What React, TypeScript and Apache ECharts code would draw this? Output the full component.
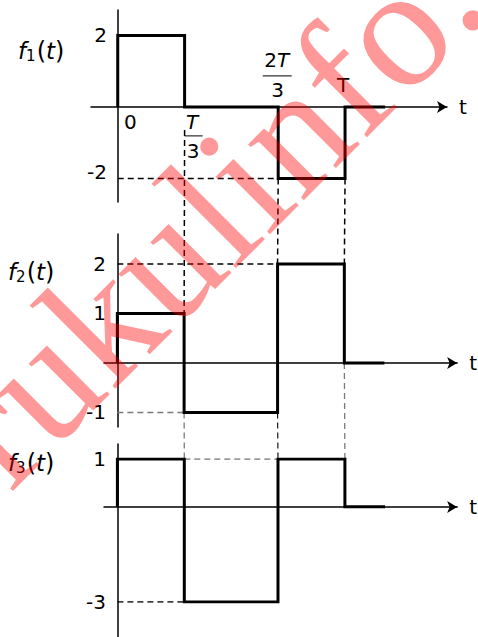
import React, { useEffect, useRef } from 'react';
import * as echarts from 'echarts';

// time breakpoints: 0, T/3, 2T/3, T, end of drawn tail
const tBreaks = [0, 1, 2.4, 3.4, 4.0];
// values of each function on [0,T/3], [T/3,2T/3], [2T/3,T], after T
const f1Values = [2, 0, -2, 0];
const f2Values = [1, -1, 2, 0];
const f3Values = [1, -3, 1, 0];
// y tick labels
const y1Ticks = [2, -2];
const y2Ticks = [2, 1, -1];
const y3Cats = ['-3', '', '0', '1'];
const y3Ticks = ['1', '-3'];
const fIndex = ['1', '2', '3'];
const watermark = 'rukulinfo.';

function stepPoints(vals: number[], map: (v: number) => number = (v) => v) {
  const pts: number[][] = [[tBreaks[0], map(0)]];
  vals.forEach((v, i) => {
    pts.push([tBreaks[i], map(v)], [tBreaks[i + 1], map(v)]);
  });
  return pts;
}

export default function App() {
  const ref = useRef<HTMLDivElement>(null);
  useEffect(() => {
    const chart = echarts.init(ref.current!, null, { renderer: 'svg' });
    const FONT = 'DejaVu Sans';
    const black = '#000';
    const gray = '#7a7a7a';
    const f3Map = (v: number) => y3Cats.indexOf(String(v));

    const lineBase = { show: true, onZero: true, lineStyle: { color: black, width: 1.5 } };
    const arrowLine = { ...lineBase, symbol: ['none', 'arrow'], symbolSize: [9, 10] };
    const mkX = (gridIndex: number, min: number, max: number, show: boolean) => ({
      type: 'value', gridIndex, min, max,
      axisLine: show ? arrowLine : { show: false, onZero: true },
      axisTick: { show: false }, axisLabel: { show: false }, splitLine: { show: false },
      name: show ? 't' : '', nameLocation: 'end', nameGap: 12,
      nameTextStyle: { fontSize: 20, fontFamily: FONT, color: black },
    });
    const lbl = { fontSize: 20, fontFamily: FONT, color: black };

    const stepSeries = (vals: number[], idx: number, map?: (v: number) => number) => ({
      type: 'line', xAxisIndex: idx, yAxisIndex: idx, data: stepPoints(vals, map),
      symbol: 'none', silent: true, z: 5, clip: false,
      lineStyle: { color: black, width: 3, cap: 'butt', join: 'miter' },
    });
    const hGuide = (idx: number, y: number, xa: number, xb: number, color: string, width: number) => ({
      type: 'line', xAxisIndex: idx, yAxisIndex: idx, data: [[xa, y], [xb, y]],
      symbol: 'none', silent: true, z: 3, clip: false,
      lineStyle: { color, width, type: [6, 4] },
    });

    const option: any = {
      animation: false,
      grid: [
        { left: 91, top: 10, width: 356, height: 192 },
        { left: 104, top: 234, width: 354, height: 193 },
        { left: 104, top: 459, width: 354, height: 143 },
        { left: 104, top: 444, width: 354, height: 193 },
      ],
      xAxis: [
        mkX(0, -0.4, 4.925, true),
        mkX(1, -0.2, 5.09, true),
        mkX(2, -0.2, 5.09, false),
        mkX(3, -0.2, 5.09, true),
      ],
      yAxis: [
        {
          type: 'value', gridIndex: 0, min: -2.66, max: 2.71,
          axisLine: lineBase, axisTick: { show: false }, splitLine: { show: false },
          axisLabel: {
            ...lbl, margin: -16, customValues: y1Ticks,
            formatter: (v: number) => (v < 0 ? '{up|' + v + '}' : String(v)),
            rich: { up: { fontSize: 20, fontFamily: FONT, color: black, padding: [0, 0, 13, 0] } },
          },
        },
        {
          type: 'value', gridIndex: 1, min: -1.293, max: 2.606,
          axisLine: lineBase, axisTick: { show: false }, splitLine: { show: false },
          axisLabel: { ...lbl, margin: -2, customValues: y2Ticks },
        },
        {
          type: 'category', gridIndex: 2, data: y3Cats, boundaryGap: false,
          axisLine: { show: false, onZero: true }, axisTick: { show: false }, splitLine: { show: false },
          axisLabel: { ...lbl, margin: -2, interval: 0, formatter: (v: string) => (y3Ticks.includes(v) ? v : '') },
        },
        {
          type: 'value', gridIndex: 3, min: -2.727, max: 1.3217,
          axisLine: lineBase, axisTick: { show: false }, splitLine: { show: false },
          axisLabel: { show: false },
        },
      ],
      series: [
        hGuide(0, f1Values[2], tBreaks[0], tBreaks[2], black, 1.5),
        hGuide(1, f2Values[2], tBreaks[0], tBreaks[2], black, 1.5),
        hGuide(1, f2Values[1], tBreaks[0], tBreaks[1], gray, 1.3),
        hGuide(2, f3Map(f3Values[0]), tBreaks[1], tBreaks[2], gray, 1.3),
        hGuide(2, f3Map(f3Values[1]), tBreaks[0], tBreaks[1], black, 1.5),
        stepSeries(f1Values, 0),
        stepSeries(f2Values, 1),
        stepSeries(f3Values, 2, f3Map),
      ],
    };
    chart.setOption(option);

    const P = (g: number, x: number, y: number) => chart.convertToPixel({ gridIndex: g } as any, [x, y]) as number[];
    const dash = (a: number[], b: number[], color: string, width: number) => ({
      type: 'line', z: 1, silent: true,
      shape: { x1: a[0], y1: a[1], x2: b[0], y2: b[1] },
      style: { stroke: color, lineWidth: width, lineDash: [6, 4] },
    });
    const txt = (x: number, y: number, text: string, italic = false, size = 20, extra: any = {}) => ({
      type: 'text', x, y, z: 10, silent: true,
      style: {
        text, fontSize: size, fontFamily: FONT, fontStyle: italic ? 'italic' : 'normal',
        fill: black, align: 'center', verticalAlign: 'middle', ...extra,
      },
    });
    const bar = (x1: number, x2: number, y: number) => ({
      type: 'line', z: 10, silent: true, shape: { x1, y1: y, x2, y2: y },
      style: { stroke: black, lineWidth: 1 },
    });

    const [t0, t1, t2, t3] = tBreaks;
    const o0 = P(0, t0, 0), o1 = P(0, t1, 0), o2 = P(0, t2, 0), o3 = P(0, t3, 0);
    const top1 = [o1[0], o1[1] + 23];
    const graphics: any[] = [
      dash(top1, P(1, t1, f2Values[0]), black, 1.5),
      dash(P(1, t1, f2Values[1]), P(2, t1, f3Map(f3Values[0])), gray, 1.3),
      dash(P(0, t2, f1Values[2]), P(1, t2, f2Values[2]), black, 1.5),
      dash(P(1, t2, f2Values[1]), P(2, t2, f3Map(f3Values[2])), black, 1.1),
      dash(P(0, t3, f1Values[2]), P(1, t3, f2Values[2]), black, 1.5),
      dash(P(1, t3, f2Values[3]), P(2, t3, f3Map(f3Values[2])), gray, 1.3),
      // x labels
      txt(o0[0] + 12.5, o0[1] + 15, '0'),
      txt(o1[0] + 7.5, o1[1] + 15, 'T', true),
      bar(o1[0], o1[0] + 18, o1[1] + 29),
      txt(o1[0] + 8.5, o1[1] + 44, '3'),
      {
        type: 'text', x: o2[0] - 1.5, y: o2[1] - 47, z: 10, silent: true,
        style: {
          text: '{n|2}{i|T}', align: 'center', verticalAlign: 'middle', fill: black,
          rich: {
            n: { fontSize: 20, fontFamily: FONT, fill: black },
            i: { fontSize: 20, fontFamily: FONT, fontStyle: 'italic', fill: black },
          },
        },
      },
      bar(o2[0] - 15.5, o2[0] + 13.5, o2[1] - 31),
      txt(o2[0] - 0.5, o2[1] - 17, '3'),
      txt(o3[0] - 2, o3[1] - 22, 'T'),
    ];
    // function name labels
    const fPos = [[18, 51], [8, 272], [8, 463]];
    fIndex.forEach((k, i) => {
      graphics.push({
        type: 'text', x: fPos[i][0], y: fPos[i][1], z: 10, silent: true,
        style: {
          text: '{f|f}{s|' + k + '}{p|(}{f|t}{p|)}', align: 'left', verticalAlign: 'middle', fill: black,
          rich: {
            f: { fontSize: 23, fontFamily: FONT, fontStyle: 'italic', fill: black },
            s: { fontSize: 15, fontFamily: FONT, fill: black, padding: [10, 1, 0, 0] },
            p: { fontSize: 24, fontFamily: FONT, fill: black },
          },
        },
      });
    });
    graphics.push({
      type: 'text', x: 211, y: 211, rotation: Math.PI / 4, z: 100, silent: true,
      style: {
        text: watermark, fontSize: 172, fontFamily: 'Liberation Serif',
        fill: 'rgba(255,0,0,0.4)', align: 'center', verticalAlign: 'middle',
      },
    });
    chart.setOption({ graphic: graphics });

    return () => chart.dispose();
  }, []);
  return <div ref={ref} style={{ position: 'absolute', left: 0, top: 0, width: 478, height: 637 }} />;
}
